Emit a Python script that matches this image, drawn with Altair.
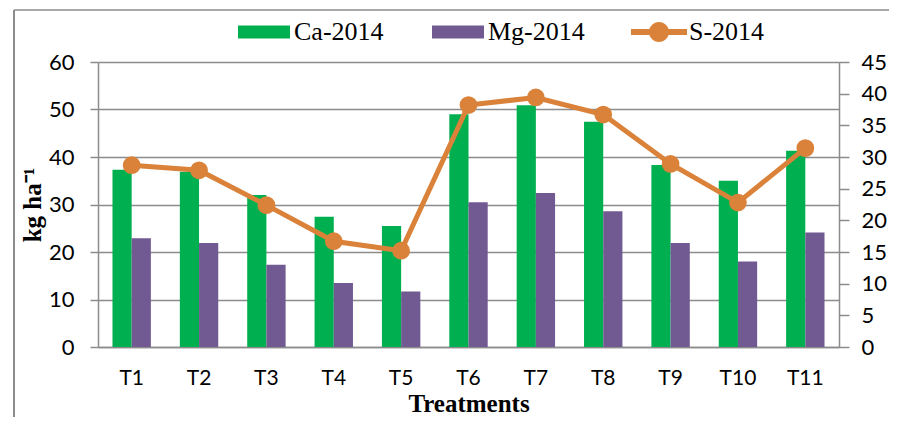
import altair as alt
import pandas as pd

treatments = ["T1", "T2", "T3", "T4", "T5", "T6", "T7", "T8", "T9", "T10", "T11"]
ca_2014 = [37.3, 36.9, 32.0, 27.4, 25.5, 49.0, 50.9, 47.4, 38.3, 35.0, 41.3]
mg_2014 = [22.9, 21.9, 17.3, 13.5, 11.7, 30.5, 32.4, 28.6, 21.9, 18.0, 24.1]
s_2014 = [28.7, 27.9, 22.4, 16.7, 15.2, 38.2, 39.4, 36.7, 28.9, 22.8, 31.4]

bar_series = ["Ca-2014", "Mg-2014"]
line_series = ["S-2014"]

GREEN = "#00B050"
PURPLE = "#715A92"
ORANGE = "#DA8239"
GRAY = "#8C8C8C"

bars_df = pd.DataFrame({
    "treatment": treatments * 2,
    "series": [bar_series[0]] * len(treatments) + [bar_series[1]] * len(treatments),
    "value": ca_2014 + mg_2014,
})
s_df = pd.DataFrame({"treatment": treatments, "series": line_series[0], "value": s_2014})

x_enc = alt.X(
    "treatment:N", sort=treatments,
    scale=alt.Scale(paddingInner=0.43, paddingOuter=0.215),
    axis=alt.Axis(title="Treatments", labelAngle=0, ticks=False, labelPadding=20,
                  labelFont="Lato", labelFontSize=21, labelColor="#000",
                  titleFont="Liberation Serif", titleFontSize=25, titleFontWeight="bold",
                  titleColor="#000", titleY=64, titleBaseline="alphabetic",
                  domainColor=GRAY, domainWidth=1.5),
)

bars = alt.Chart(bars_df).mark_bar().encode(
    x=x_enc,
    xOffset=alt.XOffset("series:N", sort=bar_series, scale=alt.Scale(paddingInner=0, paddingOuter=0)),
    y=alt.Y("value:Q", scale=alt.Scale(domain=[0, 60], nice=False),
            axis=alt.Axis(values=[0, 10, 20, 30, 40, 50, 60], title="kg ha⁻¹",
                          titleFont="Liberation Serif", titleFontSize=25, titleFontWeight="bold",
                          titleColor="#000", titleX=-58, titleBaseline="alphabetic",
                          labelFont="Lato", labelFontSize=22, labelColor="#000", labelPadding=16,
                          tickSize=8, tickColor=GRAY, tickWidth=1.5,
                          domainColor=GRAY, domainWidth=1.5,
                          grid=True, gridColor=GRAY, gridWidth=1.3)),
    color=alt.Color("series:N", sort=bar_series,
                    scale=alt.Scale(domain=bar_series, range=[GREEN, PURPLE]),
                    legend=alt.Legend(orient="none", legendX=140, legendY=-56, direction="horizontal",
                                      title=None, symbolType="M-1,-0.25L1,-0.25L1,0.25L-1,0.25Z",
                                      symbolSize=2704, symbolStrokeWidth=0, columnPadding=48,
                                      labelOffset=4, padding=0, labelFont="Liberation Serif",
                                      labelFontSize=26, labelColor="#000")),
)

right_axis = alt.Axis(orient="right", values=[0, 5, 10, 15, 20, 25, 30, 35, 40, 45], title=None,
                      labelFont="Lato", labelFontSize=22, labelColor="#000", labelPadding=12,
                      tickSize=10, tickColor=GRAY, tickWidth=1.5,
                      domainColor=GRAY, domainWidth=1.5, grid=False)
y_right = alt.Y("value:Q", scale=alt.Scale(domain=[0, 45], nice=False), axis=right_axis)

s_line = alt.Chart(s_df).mark_line(color=ORANGE, strokeWidth=5).encode(
    x=alt.X("treatment:N", sort=treatments),
    y=y_right,
)
s_points = alt.Chart(s_df).mark_circle(size=314, opacity=1).encode(
    x=alt.X("treatment:N", sort=treatments),
    y=y_right,
    color=alt.Color("series:N",
                    scale=alt.Scale(domain=line_series, range=[ORANGE]),
                    legend=alt.Legend(orient="none", legendX=533, legendY=-58, title=None,
                                      symbolType="M-1,-0.107L1,-0.107L1,0.107L-1,0.107Z M-0.357,0A0.357,0.357,0,1,1,0.357,0A0.357,0.357,0,1,1,-0.357,0Z",
                                      symbolSize=3136, symbolStrokeWidth=0, labelOffset=2,
                                      padding=0, labelFont="Liberation Serif",
                                      labelFontSize=26, labelColor="#000")),
)

frame_src = pd.DataFrame({"k": [0]})
frame_left = alt.Chart(frame_src).mark_rule(color=GRAY, strokeWidth=2).encode(
    x=alt.value(-84), y=alt.value(-52), y2=alt.value(363))
frame_top = alt.Chart(frame_src).mark_rule(color=GRAY, strokeWidth=1.5).encode(
    x=alt.value(-84), x2=alt.value(799), y=alt.value(-52))

s_layer = alt.layer(s_line, s_points)

chart = alt.layer(frame_left, frame_top, bars, s_layer).resolve_scale(
    y="independent", color="independent"
).properties(
    width=741, height=285,
    autosize=alt.AutoSizeParams(type="none"),
    padding={"left": 90, "top": 54, "right": 50, "bottom": 70},
).configure_view(stroke=None).configure(background="white")

chart.save("out.html", embed_options={"renderer": "svg", "actions": False})
